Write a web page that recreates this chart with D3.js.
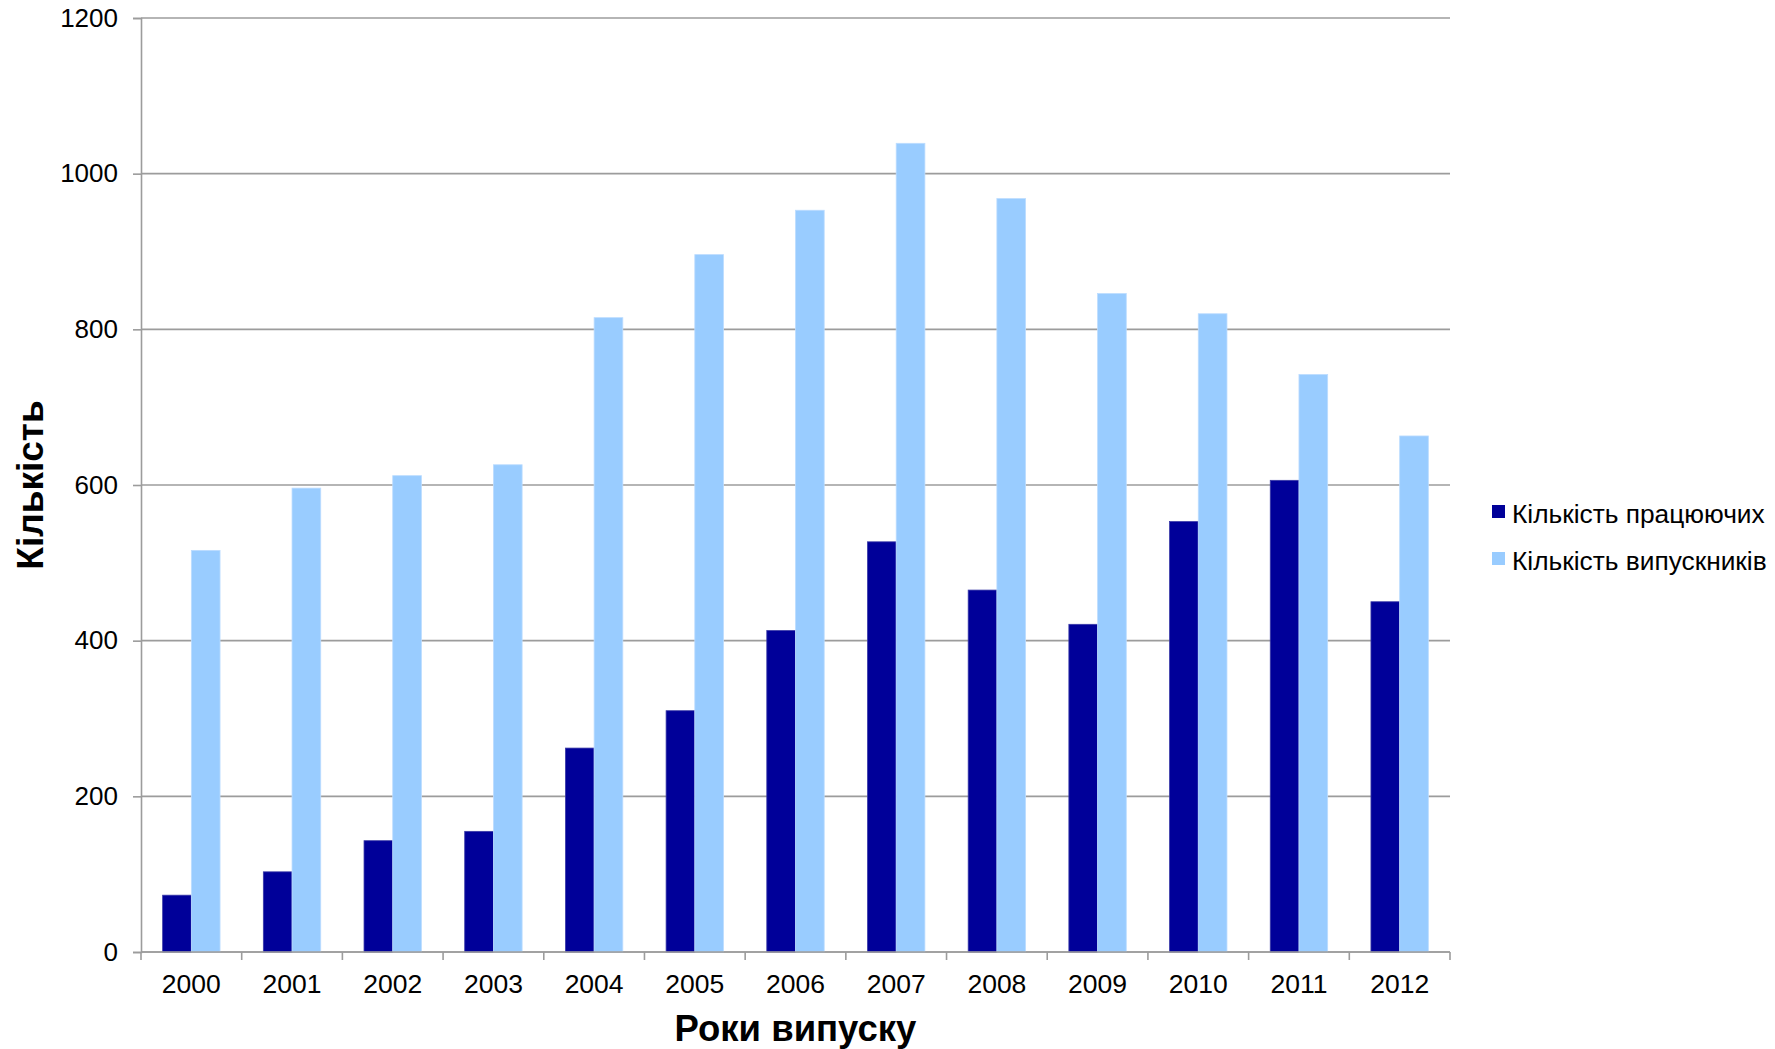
<!DOCTYPE html>
<html>
<head>
<meta charset="utf-8">
<script src="https://cdn.jsdelivr.net/npm/d3@7"></script>
<style>
  body { margin: 0; background: #fff; }
  text { font-family: "Liberation Sans", Arial, sans-serif; fill: #000; }
</style>
</head>
<body>
<div id="chart"></div>
<script>
const years = ["2000", "2001", "2002", "2003", "2004", "2005", "2006", "2007", "2008", "2009", "2010", "2011", "2012"];
const working = [73, 103, 143, 155, 262, 310, 413, 527, 465, 421, 553, 606, 450];
const graduates = [516, 596, 612, 626, 815, 896, 953, 1039, 968, 846, 820, 742, 663];
const seriesNames = ["Кількість працюючих", "Кількість випускників"];
const seriesColors = ["#000099", "#99ccff"];
const yTicks = [0, 200, 400, 600, 800, 1000, 1200];

const width = 1775;
const height = 1049;
const margin = {top: 18, left: 141, right: 325, bottom: 97};
const plotW = width - margin.left - margin.right;
const plotH = height - margin.top - margin.bottom;

const svg = d3.select("#chart").append("svg")
    .attr("width", width)
    .attr("height", height);

const x = d3.scaleBand()
  .domain(years)
  .range([0, plotW])
  .padding(0);

const xInner = d3.scaleBand()
  .domain([0, 1])
  .range([0, x.bandwidth()])
  .paddingInner(0)
  .paddingOuter(0.754);

const y = d3.scaleLinear()
  .domain([0, 1200])
  .range([plotH, 0]);

const g = svg.append("g")
    .attr("transform", "translate(" + margin.left + "," + margin.top + ")");

// gridlines
g.append("g")
  .selectAll("line")
  .data(yTicks)
  .enter().append("line")
    .attr("x1", 0)
    .attr("x2", plotW)
    .attr("y1", d => y(d))
    .attr("y2", d => y(d))
    .attr("stroke", "#9c9c9c")
    .attr("stroke-width", 1.6);

// bars
const rows = years.map((yr, i) => ({year: yr, values: [working[i], graduates[i]]}));

g.append("g")
  .selectAll("g")
  .data(rows)
  .enter().append("g")
    .attr("transform", d => "translate(" + x(d.year) + ",0)")
  .selectAll("rect")
  .data(d => d.values.map((v, k) => ({k: k, v: v})))
  .enter().append("rect")
    .attr("x", d => xInner(d.k))
    .attr("width", xInner.bandwidth())
    .attr("y", d => y(d.v))
    .attr("height", d => plotH - y(d.v))
    .attr("fill", d => seriesColors[d.k])
    .attr("stroke", d => d.k === 0 ? "#3a3aa8" : "#bcdcff")
    .attr("stroke-width", 0.8);

// y axis
const yAxis = g.append("g")
    .call(d3.axisLeft(y).tickValues(yTicks).tickSize(8).tickPadding(15).tickFormat(d3.format("d")));
yAxis.select(".domain").attr("stroke", "#9c9c9c").attr("stroke-width", 1.6);
yAxis.selectAll(".tick line").attr("stroke", "#9c9c9c").attr("stroke-width", 1.6);
yAxis.selectAll(".tick text")
    .style("font-size", "26px")
    .style("font-family", "Liberation Sans, Arial, sans-serif")
    .attr("fill", "#000");

// x axis: ticks on band boundaries
const xg = g.append("g")
    .attr("transform", "translate(0," + plotH + ")");
xg.append("line")
    .attr("x1", 0).attr("x2", plotW)
    .attr("stroke", "#9c9c9c").attr("stroke-width", 1.6);
xg.selectAll("line.tk")
  .data(years.concat(["end"]))
  .enter().append("line")
    .attr("class", "tk")
    .attr("x1", (d, i) => i * x.step())
    .attr("x2", (d, i) => i * x.step())
    .attr("y1", 0)
    .attr("y2", 8)
    .attr("stroke", "#9c9c9c")
    .attr("stroke-width", 1.6);
xg.selectAll("text")
  .data(years)
  .enter().append("text")
    .attr("x", d => x(d) + x.bandwidth() / 2)
    .attr("y", 41)
    .attr("text-anchor", "middle")
    .style("font-size", "26.5px")
    .text(d => d);

// axis titles
svg.append("text")
    .attr("x", margin.left + plotW / 2)
    .attr("y", 1041)
    .attr("text-anchor", "middle")
    .style("font-size", "36.5px")
    .style("font-weight", "bold")
    .text("Роки випуску");

svg.append("text")
    .attr("transform", "translate(43," + (margin.top + plotH / 2) + ")rotate(-90)")
    .attr("text-anchor", "middle")
    .style("font-size", "37px")
    .style("font-weight", "bold")
    .text("Кількість");

// legend
const legend = svg.append("g")
    .attr("transform", "translate(1492,505)");
const item = legend.selectAll("g")
  .data(seriesNames)
  .enter().append("g")
    .attr("transform", (d, i) => "translate(0," + (i * 47) + ")");
item.append("rect")
    .attr("width", 13)
    .attr("height", 13)
    .attr("fill", (d, i) => seriesColors[i]);
item.append("text")
    .attr("x", 20)
    .attr("y", 18)
    .style("font-size", "26.3px")
    .text(d => d);
</script>
</body>
</html>
